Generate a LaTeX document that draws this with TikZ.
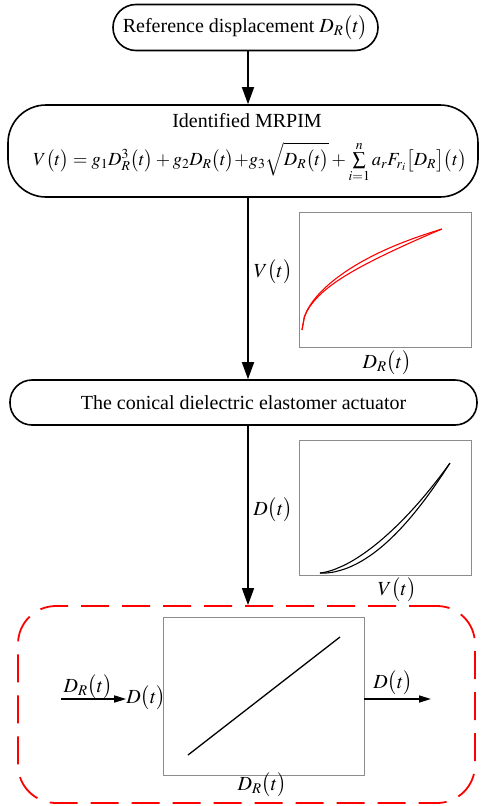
\documentclass[tikz,border=0pt]{standalone}
\usepackage{mathptmx}
\usepackage{fontspec}
\setmainfont{Liberation Serif}
\usetikzlibrary{arrows.meta}
\newcommand\tpar{\bigl(t\bigr)}
\begin{document}
\begin{tikzpicture}[x=1pt,y=-1pt,
  every node/.style={font=\fontsize{20}{24}\selectfont, inner sep=0pt},
  flowbox/.style={draw, line width=1.6pt, rounded corners=#1},
  frame/.style={draw=black!45, line width=0.9pt},
  bigarrow/.style={line width=1.6pt, -{Triangle[length=17pt,width=12pt]}},
  smallarrow/.style={line width=1.6pt, -{Triangle[length=12pt,width=7pt]}}
]
\useasboundingbox (0,0) rectangle (481,806);
\coordinate (ax) at (248,0);

% flow boxes
\node[flowbox=23pt, minimum width=265pt, minimum height=46pt] (ref) at (245.5,27.5)
  {Reference displacement $D_R\tpar$};
\node[flowbox=38pt, minimum width=470pt, minimum height=92pt] (mrpim) at (243,151) {};
\node (mrpimtitle) at (247,121) {Identified MRPIM};
\node[font=\fontsize{18.5}{22}\selectfont] (mrpimeq) at (250,162)
  {$V\tpar=g_1D_R^3\tpar+g_2D_R\tpar{+}g_3\sqrt{D_R\tpar}+\sum\limits_{i=1}^{n}a_rF_{r_i}\bigl[D_R\bigr]\tpar$};
\node[flowbox=22pt, minimum width=467pt, minimum height=45pt] (act) at (243.5,402.5)
  {The conical dielectric elastomer actuator};
\node[draw=red, line width=1.8pt, dash pattern=on 28pt off 13pt, rounded corners=38pt,
  minimum width=457pt, minimum height=197pt] (loop) at (246.5,704.5) {};

% plot frames
\node[frame, minimum width=172pt, minimum height=135pt] (g1) at (385,279.5) {};
\node[frame, minimum width=172pt, minimum height=135pt] (g2) at (385,507.5) {};
\node[frame, minimum width=201pt, minimum height=158pt] (g3) at (263.5,696) {};

% curves
\draw[red, line width=1.1pt] plot[domain=0:1, samples=60, variable=\u]
  ({302+140*\u},{330-101*sqrt(\u)-2.4*sin(180*\u)});
\draw[red, line width=1.1pt] plot[domain=0:1, samples=60, variable=\u]
  ({302+140*\u},{330-101*sqrt(\u)+2.4*sin(180*\u)});
\draw[line width=1.1pt] plot[domain=0:1, samples=60, variable=\u]
  ({320+130*\u},{573-110*\u^1.75-3.6*sin(180*\u)});
\draw[line width=1.1pt] plot[domain=0:1, samples=60, variable=\u]
  ({320+130*\u},{573-110*\u^1.75+3.6*sin(180*\u)});
\coordinate (l3a) at (188,755);
\coordinate (l3b) at (340,637);
\draw[line width=1.3pt] (l3a) -- (l3b);

% labels
\node (vt1) at (273,272) {$V\tpar$};
\node (dr1) at (387,363) {$D_R\tpar$};
\node (dt1) at (273,510) {$D\tpar$};
\node (vt2) at (397,590) {$V\tpar$};
\node (dr3) at (262,785) {$D_R\tpar$};
\node (din) at (146,698) {$D\tpar$};
\node (drin) at (88,687) {$D_R\tpar$};
\node (dout) at (393,683) {$D\tpar$};
\coordinate (inL) at (61,699);
\coordinate (outR) at (431,699);

% arrows
\draw[bigarrow] (ref.south -| ax) -- (mrpim.north -| ax);
\draw[bigarrow] (mrpim.south -| ax) -- (act.north -| ax);
\draw[bigarrow] (act.south -| ax) -- (loop.north -| ax);
\draw[smallarrow] (inL) -- (inL -| din.west);
\draw[smallarrow] (g3.east |- outR) -- (outR);
\end{tikzpicture}
\end{document}
